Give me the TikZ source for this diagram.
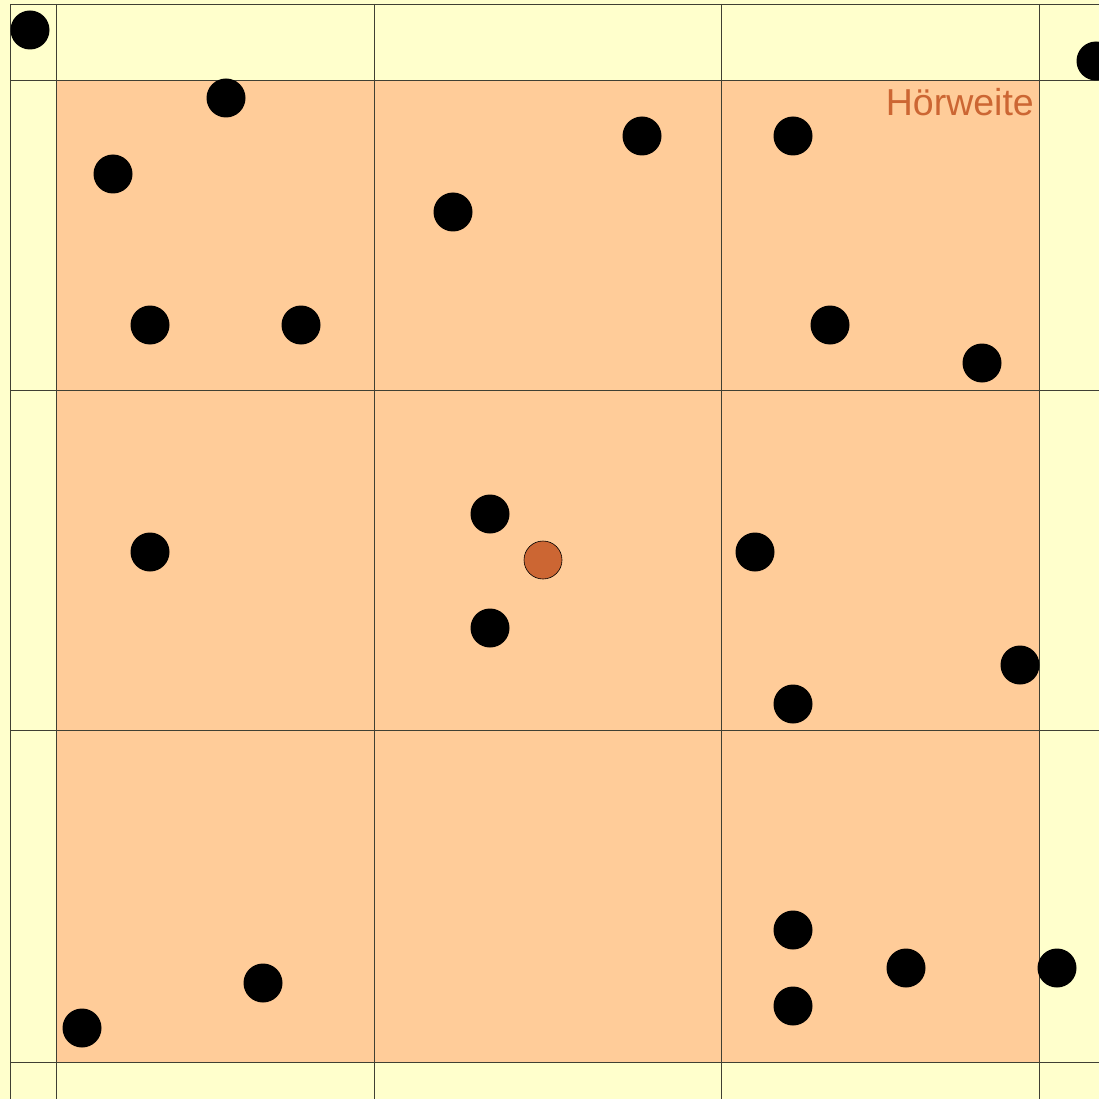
\documentclass[tikz,border=0pt]{standalone}
\usepackage{fontspec}
\setmainfont{Liberation Sans}
\definecolor{bgyellow}{HTML}{FFFFCC}
\definecolor{hearorange}{HTML}{FFCC99}
\definecolor{dotorange}{HTML}{CC6633}
\begin{document}
\begin{tikzpicture}[x=1pt,y=-1pt,
  gridline/.style={draw=black!75!bgyellow,line width=0.9pt},
  agent/.style={circle,fill=black,inner sep=0pt,minimum size=39pt},
  self/.style={circle,fill=dotorange,draw=black,line width=0.6pt,inner sep=0pt,minimum size=38pt},
  label/.style={text=dotorange,font=\fontsize{37.5}{40}\selectfont,inner sep=0pt}]
\useasboundingbox (0,0) rectangle (1099,1099);
\clip (0,0) rectangle (1099,1099);
\fill[bgyellow] (0,0) rectangle (1099,1099);
\fill[hearorange] (56,80) rectangle (1039,1062);
% grid
\foreach \x in {10,56,374,721,1039} \draw[gridline] (\x,4) -- (\x,1100);
\foreach \y in {4,80,390,730,1062} \draw[gridline] (10,\y) -- (1100,\y);
% agents
\node[agent] (a1) at (30,30) {};
\node[agent] (a2) at (1096,61) {};
\node[agent] (a3) at (226,98) {};
\node[agent] (a4) at (113,174) {};
\node[agent] (a5) at (642,136) {};
\node[agent] (a6) at (793,136) {};
\node[agent] (a7) at (453,212) {};
\node[agent] (a8) at (150,325) {};
\node[agent] (a9) at (301,325) {};
\node[agent] (a10) at (830,325) {};
\node[agent] (a11) at (982,363) {};
\node[agent] (a12) at (150,552) {};
\node[agent] (a13) at (490,514) {};
\node[agent] (a14) at (755,552) {};
\node[agent] (a15) at (490,628) {};
\node[agent] (a16) at (1020,665) {};
\node[agent] (a17) at (793,704) {};
\node[agent] (a18) at (793,930) {};
\node[agent] (a19) at (906,968) {};
\node[agent] (a20) at (1057,968) {};
\node[agent] (a21) at (793,1006) {};
\node[agent] (a22) at (263,983) {};
\node[agent] (a23) at (82,1028) {};
\node[self] (me) at (543,560) {};
\node[label,anchor=base east] (hw) at (1034,116) {Hörweite};
\end{tikzpicture}
\end{document}
